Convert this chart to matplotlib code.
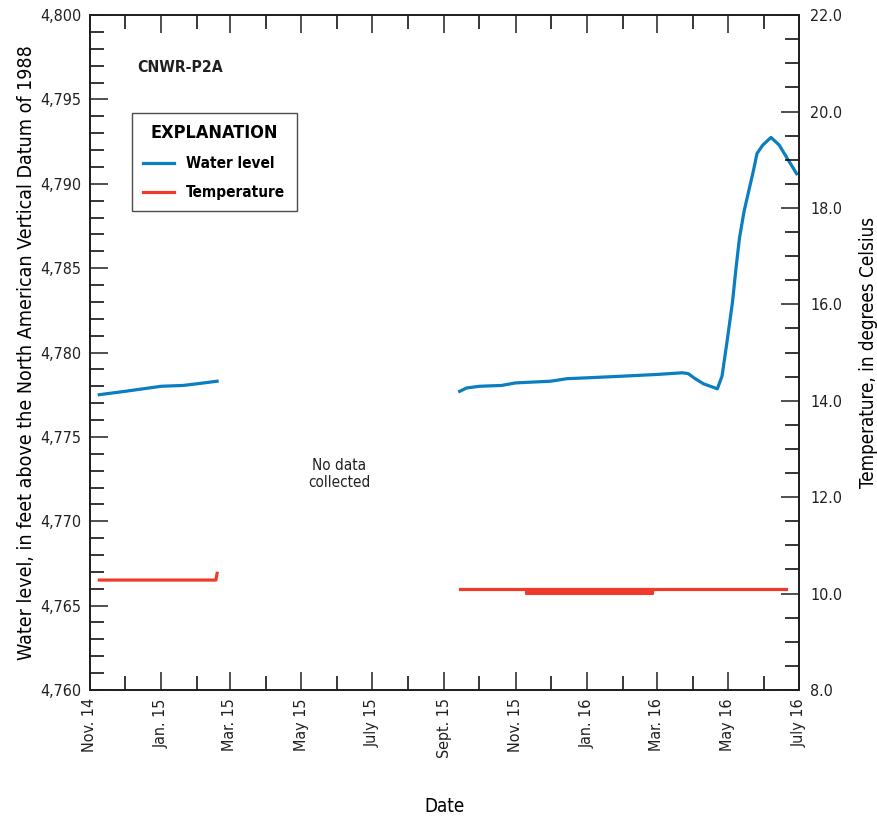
import numpy as np
import pandas as pd
import matplotlib
matplotlib.use("Agg")
import matplotlib.pyplot as plt
import matplotlib.dates as mdates
from matplotlib.ticker import MultipleLocator, FuncFormatter

plt.rcParams['font.family'] = ['Liberation Sans Narrow', 'DejaVu Sans']
plt.rcParams['font.stretch'] = 'condensed'

# water level, feet above NAVD 88
wl1_dates = ["2014-11-09", "2014-12-01", "2015-01-01", "2015-01-20", "2015-02-01", "2015-02-18"]
wl1_vals = [4777.5, 4777.7, 4778.0, 4778.05, 4778.15, 4778.3]
wl2_dates = ["2015-09-14", "2015-09-20", "2015-10-01", "2015-10-20", "2015-11-01", "2015-12-01",
             "2015-12-15", "2016-01-01", "2016-02-01", "2016-03-01", "2016-03-23", "2016-03-28",
             "2016-04-03", "2016-04-10", "2016-04-22", "2016-04-26", "2016-04-30", "2016-05-05",
             "2016-05-08", "2016-05-11", "2016-05-15", "2016-05-19", "2016-05-23", "2016-05-26",
             "2016-05-31", "2016-06-07", "2016-06-14", "2016-06-21", "2016-06-29"]
wl2_vals = [4777.7, 4777.9, 4778.0, 4778.05, 4778.2, 4778.3,
            4778.45, 4778.5, 4778.6, 4778.7, 4778.8, 4778.75,
            4778.45, 4778.15, 4777.85, 4778.6, 4780.5, 4783.0,
            4785.0, 4786.8, 4788.4, 4789.6, 4790.8, 4791.8,
            4792.3, 4792.75, 4792.3, 4791.5, 4790.6]

# temperature, degrees Celsius
t1_dates = ["2014-11-09", "2015-02-17", "2015-02-18"]
t1_vals = [10.28, 10.28, 10.42]
t2_dates = ["2015-09-14", "2016-06-20"]
t2_vals = [10.1, 10.1]
# readings flickering between 10.0 and 10.1
band_dates = ["2015-11-10", "2016-02-27"]
band_low = [10.0, 10.0]
band_high = [10.1, 10.1]

tick_labels = ["Nov. 14", "Jan. 15", "Mar. 15", "May 15", "July 15", "Sept. 15",
               "Nov. 15", "Jan. 16", "Mar. 16", "May 16", "July 16"]

blue = "#0b7dc1"
red = "#ee3b2c"

fig = plt.figure(figsize=(8.78, 8.17), dpi=100)
ax = fig.add_axes([0.1025, 0.1555, 0.8075, 0.826])
ax2 = ax.twinx()

ax.plot(pd.to_datetime(wl1_dates), wl1_vals, color=blue, lw=2.3, label="Water level", zorder=3)
ax.plot(pd.to_datetime(wl2_dates), wl2_vals, color=blue, lw=2.3, zorder=3)
ax.plot([], [], color=red, lw=2.3, label="Temperature")

ax2.plot(pd.to_datetime(t1_dates), t1_vals, color=red, lw=2.3)
ax2.plot(pd.to_datetime(t2_dates), t2_vals, color=red, lw=2.3)
ax2.fill_between(pd.to_datetime(band_dates), band_low, band_high, color=red, lw=1.5, edgecolor=red)

ax.set_xlim(pd.Timestamp("2014-11-01"), pd.Timestamp("2016-07-01"))
ax.set_ylim(4760, 4800)
ax2.set_ylim(8, 22)

major_dates = pd.date_range("2014-11-01", "2016-07-01", freq="2MS")
ax.set_xticks(major_dates)
ax.set_xticklabels(tick_labels, rotation=90, fontsize=11.5)
ax.xaxis.set_minor_locator(mdates.MonthLocator())

ax.yaxis.set_major_locator(MultipleLocator(5))
ax.yaxis.set_minor_locator(MultipleLocator(1))
ax.yaxis.set_major_formatter(FuncFormatter(lambda v, p: f"{v:,.0f}"))
ax2.yaxis.set_major_locator(MultipleLocator(2))
ax2.yaxis.set_minor_locator(MultipleLocator(0.5))
ax2.yaxis.set_major_formatter(FuncFormatter(lambda v, p: f"{v:.1f}"))

ax.tick_params(axis="both", which="major", direction="in", length=13, width=1.1,
               labelsize=11.5, top=True, right=False, pad=6, colors="#231f20")
ax.tick_params(axis="both", which="minor", direction="in", length=10, width=1.1,
               top=True, right=False)
ax2.tick_params(axis="y", which="major", direction="in", length=13, width=1.1,
                labelsize=11.5, pad=8, colors="#231f20")
ax2.tick_params(axis="y", which="minor", direction="in", length=10, width=1.1)
for a in (ax, ax2):
    for s in a.spines.values():
        s.set_linewidth(1.3)
        s.set_color("#231f20")

ax.set_ylabel("Water level, in feet above the North American Vertical Datum of 1988",
              fontsize=14, labelpad=3)
ax2.set_ylabel("Temperature, in degrees Celsius", fontsize=13.5, labelpad=12)
ax.set_xlabel("Date", fontsize=13.5, labelpad=28)

ax.text(0.067, 0.915, "CNWR-P2A", transform=ax.transAxes, fontsize=11.3, fontweight="bold",
        color="#231f20")
ax.text(pd.Timestamp("2015-06-03"), 4772.8, "No data\ncollected", ha="center", va="center",
        fontsize=11, color="#231f20", linespacing=1.15)

leg = ax.legend(loc="upper left", bbox_to_anchor=(0.059, 0.855), borderaxespad=0,
                title="EXPLANATION", frameon=True, fancybox=False, edgecolor="#231f20",
                handlelength=2.0, handletextpad=0.8, borderpad=0.75, labelspacing=0.9,
                prop={"weight": "bold", "size": 11})
leg.get_title().set_fontweight("bold")
leg.get_title().set_fontsize(13)
leg.get_frame().set_linewidth(1.0)
leg.set_zorder(5)

fig.savefig("out.png", dpi=100)
